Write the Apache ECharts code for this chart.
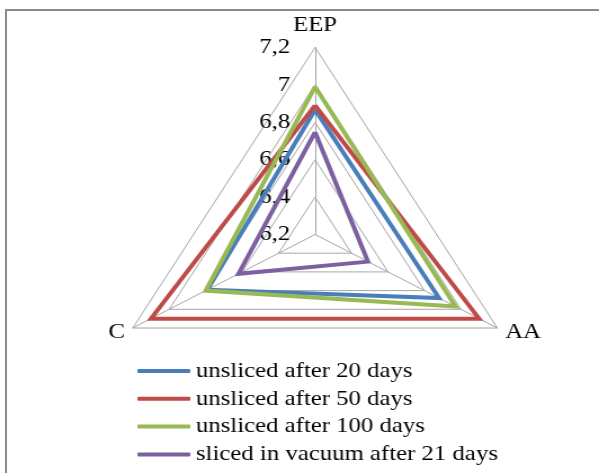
<!DOCTYPE html>
<html>
<head>
<meta charset="utf-8">
<script src="https://cdn.jsdelivr.net/npm/echarts@6/dist/echarts.min.js"></script>
<style>
  html, body { margin: 0; padding: 0; background: #fff; width: 599px; height: 473px; overflow: hidden; }
  #frame { position: absolute; left: 5px; top: 9px; width: 600px; height: 470px;
           border-top: 2px solid #8c8c8c; border-left: 2px solid #8c8c8c; box-sizing: border-box; }
  #chart { position: absolute; left: 0; top: 0; width: 532px; height: 473px;
           transform: scaleX(1.126); transform-origin: 0 0; }
</style>
</head>
<body>
<div id="frame"></div>
<div id="chart"></div>
<script>
// Radar axes, listed counter-clockwise from the top
const categories = ['EEP', 'C', 'AA'];
const axisMin = 6.2;
const axisMax = 7.2;
const tickLabels = ['6,2', '6,4', '6,6', '6,8', '7', '7,2'];

// Values per axis, in the order of `categories`
const unsliced20 = [6.867, 6.79, 6.88];
const unsliced50 = [6.89, 7.10, 7.10];
const unsliced100 = [6.99, 6.80, 6.97];
const slicedVacuum21 = [6.747, 6.62, 6.49];

const seriesNames = [
  'unsliced after 20 days',
  'unsliced after 50 days',
  'unsliced after 100 days',
  'sliced in vacuum after 21 days'
];
const seriesValues = [unsliced20, unsliced50, unsliced100, slicedVacuum21];
const colors = ['#4a7ebb', '#be4b48', '#98b954', '#7d60a0'];

const serif = '"Liberation Serif", "Times New Roman", serif';

const chart = echarts.init(document.getElementById('chart'), null, { renderer: 'canvas' });

const indicator = categories.map((name, i) => ({
  name: name,
  min: axisMin,
  max: axisMax,
  // tick labels only along the first (top) axis
  axisLabel: { show: i === 0 }
}));

chart.setOption({
  animation: false,
  color: colors,
  legend: {
    orient: 'vertical',
    left: 117,
    top: 355,
    itemWidth: 47,
    itemHeight: 4,
    itemGap: 5.8,
    icon: 'roundRect',
    textStyle: { fontFamily: serif, fontSize: 22, color: '#000', lineHeight: 22 },
    data: seriesNames
  },
  radar: {
    center: [279.8, 234.5],
    radius: 187,
    startAngle: 90,
    splitNumber: 5,
    shape: 'polygon',
    nameGap: 8,
    axisName: { color: '#000', fontFamily: serif, fontSize: 22 },
    axisLine: { show: true, lineStyle: { color: '#a6a6a6', width: 1 } },
    splitLine: { show: true, lineStyle: { color: '#a6a6a6', width: 1 } },
    splitArea: { show: false },
    axisTick: { show: false },
    axisLabel: {
      show: true,
      margin: 22,
      color: '#000',
      fontFamily: serif,
      fontSize: 22,
      formatter: function (v) {
        const idx = Math.round((v - axisMin) / 0.2);
        return tickLabels[idx] !== undefined ? tickLabels[idx] : '';
      }
    },
    indicator: indicator
  },
  series: [{
    type: 'radar',
    symbol: 'none',
    lineStyle: { width: 4, join: 'miter' },
    data: seriesNames.map((n, i) => ({
      name: n,
      value: seriesValues[i],
      lineStyle: { color: colors[i], width: 4, join: 'miter' },
      itemStyle: { color: colors[i] }
    }))
  }]
});
</script>
</body>
</html>
